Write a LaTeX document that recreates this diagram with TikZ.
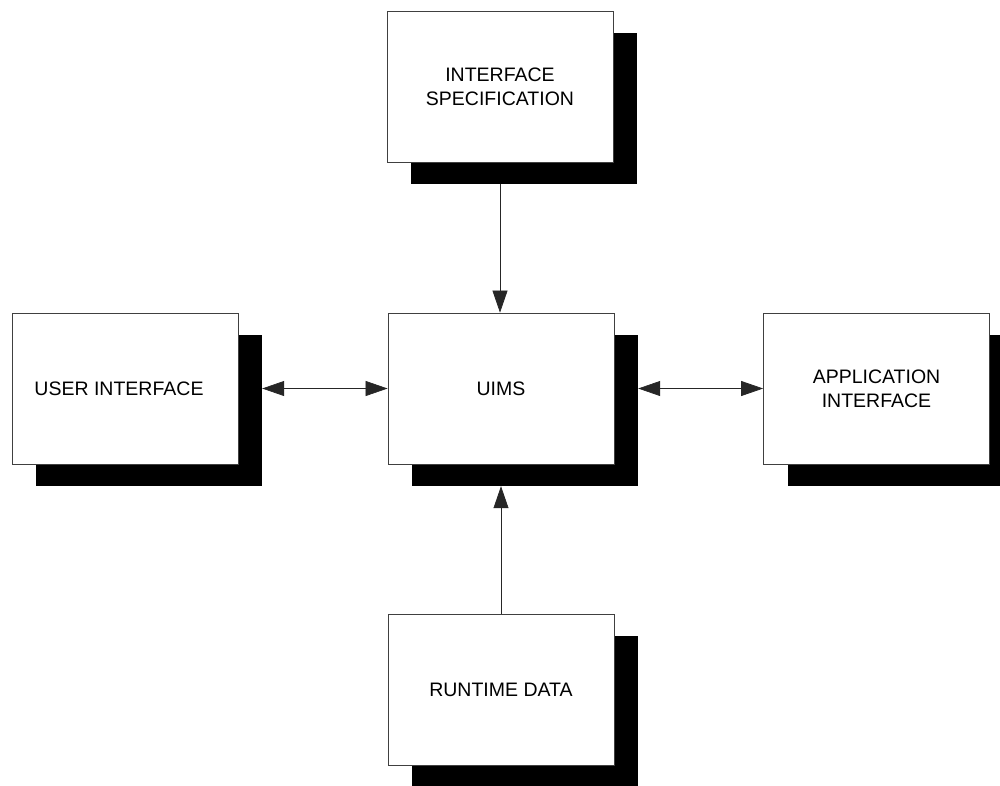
\documentclass[tikz,border=0pt]{standalone}
\usepackage{fontspec}
\setmainfont{Liberation Sans}
\usetikzlibrary{arrows.meta}
\begin{document}
\begin{tikzpicture}[x=1pt,y=-1pt,
  box/.style={draw=black!75, line width=0.8pt, fill=white, minimum width=226pt, minimum height=151pt, inner sep=0pt, align=center, font=\fontsize{19.5}{24}\selectfont},
  shadowbox/.style={fill=black, minimum width=226pt, minimum height=151pt, inner sep=0pt},
  tip/.tip={Triangle[length=22pt,width=15pt]},
  link/.style={line width=0.7pt, black!85}
]
\path[use as bounding box, clip] (0,0) rectangle (1000,785);
\fill[white] (0,0) rectangle (1000,785);
% shadows
\node[shadowbox] (specs) at (524,108.5) {};
\node[shadowbox] (uis) at (149,410.5) {};
\node[shadowbox] (uimss) at (525,410.5) {};
\node[shadowbox] (apps) at (900.5,410.5) {};
\node[shadowbox] (runs) at (525,711.5) {};
% boxes
\node[box] (spec) at (500,86.5) {INTERFACE\\SPECIFICATION};
\node[box] (ui) at (125,388.5) {USER INTERFACE\hspace*{12pt}};
\node[box] (uims) at (501,388.5) {UIMS};
\node[box] (app) at (876.5,388.5) {APPLICATION\\INTERFACE};
\node[box] (run) at (501,689.5) {RUNTIME DATA};
% connectors
\draw[link, -tip] (spec.south |- specs.south) -- (spec.south |- uims.north);
\draw[link, tip-tip] (ui.east -| uis.east) -- (uims.west);
\draw[link, tip-tip] (uims.east -| uimss.east) -- (app.west);
\draw[link, -tip] (run.north) -- (run.north |- uimss.south);
\end{tikzpicture}
\end{document}
